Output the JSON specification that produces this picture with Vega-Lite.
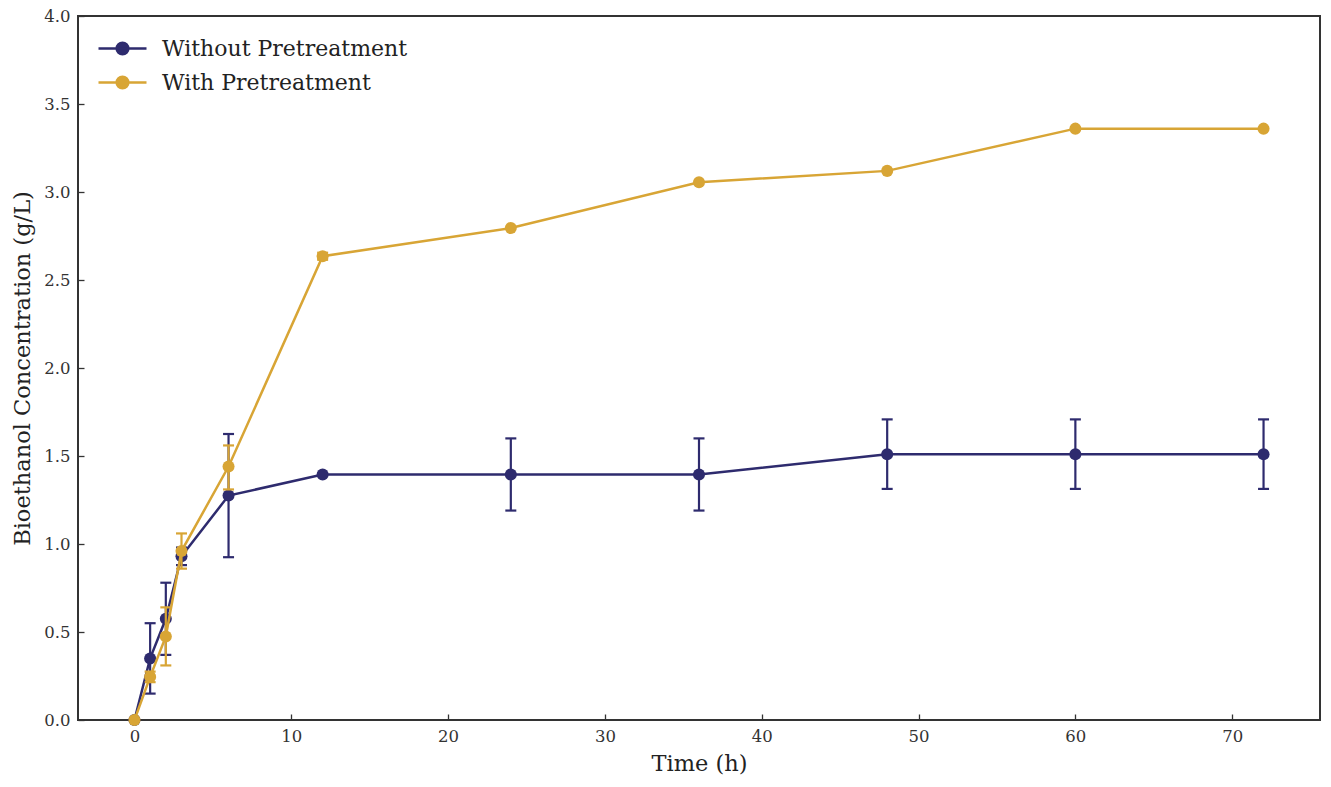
{
  "$schema": "https://vega.github.io/schema/vega-lite/v6.json",
  "background": "white",
  "width": 1242,
  "height": 704,
  "autosize": "none",
  "padding": {"left": 78, "top": 16, "right": 11, "bottom": 67},
  "data": {
    "values": [
      {"series": "Without Pretreatment", "time": 0, "conc": 0, "lo": null, "hi": null},
      {"series": "Without Pretreatment", "time": 1, "conc": 0.35, "lo": 0.15, "hi": 0.55},
      {"series": "Without Pretreatment", "time": 2, "conc": 0.575, "lo": 0.37, "hi": 0.78},
      {"series": "Without Pretreatment", "time": 3, "conc": 0.93, "lo": 0.88, "hi": 0.98},
      {"series": "Without Pretreatment", "time": 6, "conc": 1.275, "lo": 0.925, "hi": 1.625},
      {"series": "Without Pretreatment", "time": 12, "conc": 1.395, "lo": null, "hi": null},
      {"series": "Without Pretreatment", "time": 24, "conc": 1.395, "lo": 1.19, "hi": 1.6},
      {"series": "Without Pretreatment", "time": 36, "conc": 1.395, "lo": 1.19, "hi": 1.6},
      {"series": "Without Pretreatment", "time": 48, "conc": 1.51, "lo": 1.313, "hi": 1.708},
      {"series": "Without Pretreatment", "time": 60, "conc": 1.51, "lo": 1.313, "hi": 1.708},
      {"series": "Without Pretreatment", "time": 72, "conc": 1.51, "lo": 1.313, "hi": 1.708},
      {"series": "With Pretreatment", "time": 0, "conc": 0, "lo": null, "hi": null},
      {"series": "With Pretreatment", "time": 1, "conc": 0.245, "lo": 0.215, "hi": 0.275},
      {"series": "With Pretreatment", "time": 2, "conc": 0.475, "lo": 0.31, "hi": 0.64},
      {"series": "With Pretreatment", "time": 3, "conc": 0.96, "lo": 0.86, "hi": 1.06},
      {"series": "With Pretreatment", "time": 6, "conc": 1.44, "lo": 1.31, "hi": 1.56},
      {"series": "With Pretreatment", "time": 12, "conc": 2.635, "lo": 2.615, "hi": 2.655},
      {"series": "With Pretreatment", "time": 24, "conc": 2.795, "lo": null, "hi": null},
      {"series": "With Pretreatment", "time": 36, "conc": 3.055, "lo": null, "hi": null},
      {"series": "With Pretreatment", "time": 48, "conc": 3.12, "lo": null, "hi": null},
      {"series": "With Pretreatment", "time": 60, "conc": 3.36, "lo": null, "hi": null},
      {"series": "With Pretreatment", "time": 72, "conc": 3.36, "lo": null, "hi": null}
    ]
  },
  "encoding": {
    "x": {
      "field": "time",
      "type": "quantitative",
      "title": "Time (h)",
      "scale": {"domain": [-3.6, 75.6], "nice": false, "zero": false},
      "axis": {"values": [0, 10, 20, 30, 40, 50, 60, 70], "format": "d", "titlePadding": 8}
    },
    "color": {
      "field": "series",
      "type": "nominal",
      "scale": {
        "domain": ["Without Pretreatment", "With Pretreatment"],
        "range": ["#2e2b6e", "#d8a535"]
      },
      "legend": {
        "title": null,
        "orient": "top-left",
        "offset": 14,
        "padding": 0,
        "rowPadding": 4,
        "labelLimit": 0,
        "labelOffset": 33,
        "symbolType": "M-0.706,0H2.118M0.356,0A0.35,0.35,0,1,1,1.056,0A0.35,0.35,0,1,1,0.356,0Z",
        "symbolSize": 1156,
        "symbolStrokeWidth": 2.3,
        "encode": {
          "symbols": {"update": {"fill": {"scale": "color", "field": "value"}}}
        }
      }
    }
  },
  "layer": [
    {
      "transform": [{"filter": "datum.series == 'Without Pretreatment' && datum.lo != null"}],
      "mark": {
        "type": "errorbar",
        "ticks": {"size": 11, "thickness": 2.2, "opacity": 1},
        "rule": {"strokeWidth": 2.2, "opacity": 1}
      },
      "encoding": {
        "y": {"field": "lo", "type": "quantitative", "title": "Bioethanol Concentration (g/L)"},
        "y2": {"field": "hi"}
      }
    },
    {
      "transform": [{"filter": "datum.series == 'Without Pretreatment'"}],
      "mark": {"type": "line", "strokeWidth": 2.5, "point": {"filled": true, "size": 145, "opacity": 1}},
      "encoding": {
        "y": {
          "field": "conc",
          "type": "quantitative",
          "title": "Bioethanol Concentration (g/L)",
          "scale": {"domain": [0, 4], "nice": false},
          "axis": {"values": [0, 0.5, 1, 1.5, 2, 2.5, 3, 3.5, 4], "format": ".1f", "titlePadding": 9}
        }
      }
    },
    {
      "transform": [{"filter": "datum.series == 'With Pretreatment' && datum.lo != null"}],
      "mark": {
        "type": "errorbar",
        "ticks": {"size": 11, "thickness": 2.2, "opacity": 1},
        "rule": {"strokeWidth": 2.2, "opacity": 1}
      },
      "encoding": {
        "y": {"field": "lo", "type": "quantitative", "title": "Bioethanol Concentration (g/L)"},
        "y2": {"field": "hi"}
      }
    },
    {
      "transform": [{"filter": "datum.series == 'With Pretreatment'"}],
      "mark": {"type": "line", "strokeWidth": 2.5, "point": {"filled": true, "size": 145, "opacity": 1}},
      "encoding": {
        "y": {"field": "conc", "type": "quantitative", "title": "Bioethanol Concentration (g/L)"}
      }
    }
  ],
  "config": {
    "font": "DejaVu Serif",
    "view": {"stroke": "#333333", "strokeWidth": 2},
    "axis": {
      "grid": false,
      "domain": false,
      "tickSize": -6,
      "tickColor": "#333333",
      "tickWidth": 1.3,
      "labelFont": "DejaVu Serif",
      "labelFontSize": 16.5,
      "labelColor": "#333333",
      "labelPadding": 14,
      "titleFont": "DejaVu Serif",
      "titleFontSize": 22.5,
      "titleFontWeight": "normal",
      "titleColor": "#222222"
    },
    "legend": {
      "labelFont": "DejaVu Serif",
      "labelFontSize": 22,
      "labelColor": "#222222"
    }
  }
}
